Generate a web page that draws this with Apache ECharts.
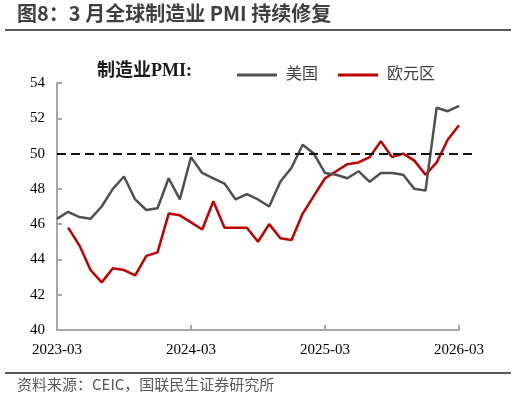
<!DOCTYPE html>
<html>
<head>
<meta charset="utf-8">
<script src="https://cdn.jsdelivr.net/npm/echarts@6/dist/echarts.min.js"></script>
<style>
  html, body { margin: 0; padding: 0; background: #fff; }
  #chart { width: 516px; height: 400px; }
</style>
</head>
<body>
<div id="chart"></div>
<script>
// 月份 2023-03 ~ 2026-03
const months = []
for (let y = 2023; y <= 2026; y++) {
  for (let m = 1; m <= 12; m++) {
    if ((y === 2023 && m < 3) || (y === 2026 && m > 3)) continue
    months.push(`${y}-${String(m).padStart(2, '0')}`)
  }
}

// 美国 ISM 制造业 PMI
const usPmi = [
  46.3, 46.7, 46.4, 46.3, 47.0, 48.0, 48.7, 47.4, 46.8, 46.9, 48.6, 47.4,
  49.8, 48.9, 48.6, 48.3, 47.4, 47.7, 47.4, 47.0, 48.4, 49.2, 50.5, 50.0,
  48.9, 48.8, 48.6, 49.0, 48.4, 48.9, 48.9, 48.8, 48.0, 47.9, 52.6, 52.4, 52.7,
]

// 欧元区制造业 PMI (2023-03 无数据)
const euPmi = [
  null, 45.8, 44.8, 43.4, 42.7, 43.5, 43.4, 43.1, 44.2, 44.4, 46.6, 46.5,
  46.1, 45.7, 47.3, 45.8, 45.8, 45.8, 45.0, 46.0, 45.2, 45.1, 46.6, 47.6,
  48.6, 49.0, 49.4, 49.5, 49.8, 50.7, 49.8, 50.0, 49.6, 48.8, 49.5, 50.8, 51.6,
]

const yTicks = [40, 42, 44, 46, 48, 50, 52, 54]
const xTickLabels = ['2023-03', '2024-03', '2025-03', '2026-03']

const serif = "'Liberation Serif', 'Times New Roman', 'Noto Sans CJK SC', serif"
const sans = "'Noto Sans CJK SC', 'Noto Sans', sans-serif"

const chart = echarts.init(document.getElementById('chart'))

chart.setOption({
  animation: false,
  backgroundColor: '#fff',
  grid: { left: 57, right: 57, top: 83, bottom: 70 },
  title: {
    text: '制造业PMI:',
    left: 92,
    top: 57,
    textStyle: { fontFamily: serif, fontSize: 18, fontWeight: 'bold', color: '#1a1a1a' },
  },
  legend: {
    left: 232,
    top: 62,
    icon: 'rect',
    itemWidth: 40,
    itemHeight: 3,
    itemGap: 20,
    textStyle: { fontFamily: serif, fontSize: 16, color: '#404040', padding: [0, 0, 0, 4] },
    data: ['美国', '欧元区'],
  },
  xAxis: {
    type: 'category',
    data: months,
    boundaryGap: false,
    axisLine: { lineStyle: { color: '#a6a6a6', width: 2 } },
    axisTick: {
      inside: true,
      length: 5,
      lineStyle: { color: '#a6a6a6', width: 2 },
      interval: (i) => i % 12 === 0,
    },
    axisLabel: {
      interval: (i, v) => xTickLabels.includes(v),
      fontFamily: serif,
      fontSize: 15,
      color: '#000',
      margin: 13,
    },
    splitLine: { show: false },
  },
  yAxis: {
    type: 'value',
    min: yTicks[0],
    max: yTicks[yTicks.length - 1],
    interval: 2,
    axisLine: { show: true, lineStyle: { color: '#a6a6a6', width: 2 } },
    axisTick: { show: true, inside: true, length: 5, lineStyle: { color: '#a6a6a6', width: 2 } },
    axisLabel: { fontFamily: serif, fontSize: 15, color: '#000', margin: 12 },
    splitLine: { show: false },
  },
  series: [
    {
      name: '美国',
      type: 'line',
      data: usPmi,
      symbol: 'none',
      lineStyle: { color: '#505050', width: 2.5 },
      itemStyle: { color: '#505050' },
      markLine: {
        silent: true,
        symbol: 'none',
        label: { show: false },
        lineStyle: { color: '#111', width: 2, type: [9, 5] },
        data: [[{ xAxis: months[0], yAxis: 50 }, { x: 476, yAxis: 50 }]],
      },
      z: 3,
    },
    {
      name: '欧元区',
      type: 'line',
      data: euPmi,
      symbol: 'none',
      lineStyle: { color: '#c00000', width: 2.5 },
      itemStyle: { color: '#c00000' },
      z: 2,
    },
  ],
  graphic: [
    {
      type: 'text',
      left: 17,
      top: 3,
      style: { text: '图8：3 月全球制造业 PMI 持续修复', font: `bold 20px ${sans}`, fill: '#404040' },
    },
    {
      type: 'line',
      shape: { x1: 5, y1: 30, x2: 511, y2: 30 },
      style: { stroke: '#595959', lineWidth: 2 },
    },
    {
      type: 'line',
      shape: { x1: 5, y1: 373, x2: 511, y2: 373 },
      style: { stroke: '#595959', lineWidth: 2 },
    },
    {
      type: 'text',
      left: 17,
      top: 377,
      style: { text: '资料来源：CEIC，国联民生证券研究所', font: `15px ${sans}`, fill: '#595959' },
    },
  ],
})
</script>
</body>
</html>
